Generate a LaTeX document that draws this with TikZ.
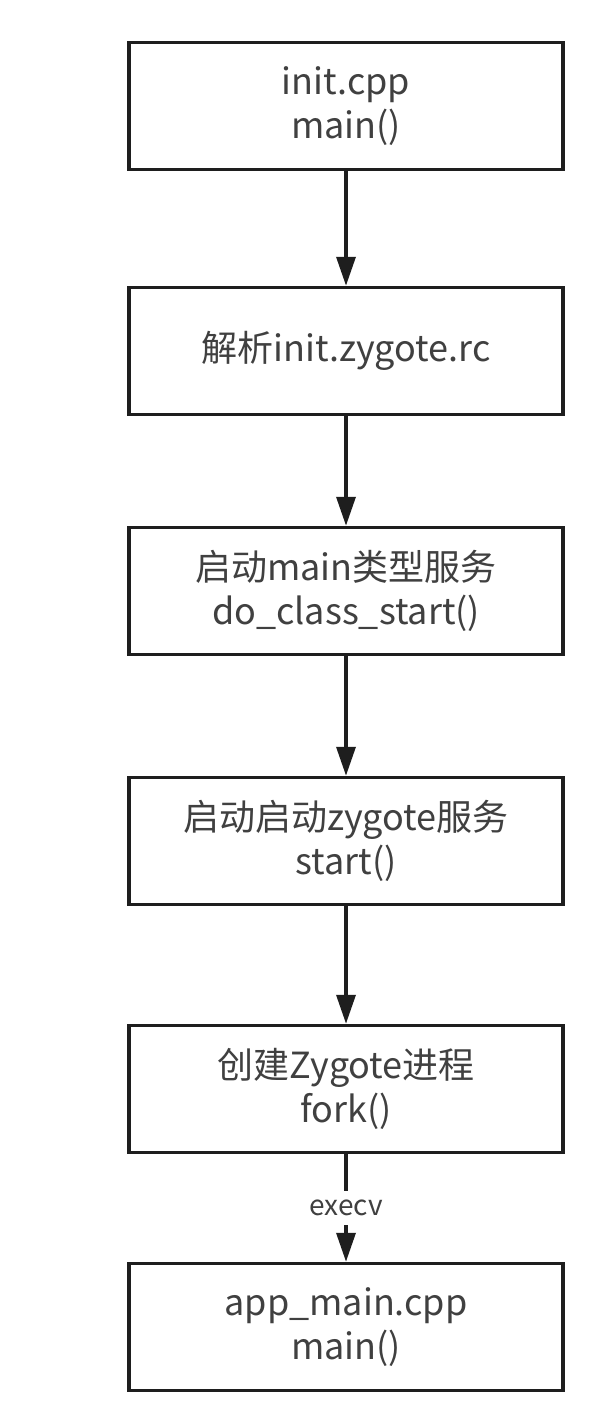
\documentclass[tikz,border=0pt]{standalone}
\usepackage{fontspec}
\setmainfont{Noto Sans CJK SC}
\usetikzlibrary{arrows.meta}
\definecolor{txt}{HTML}{404040}
\definecolor{ln}{HTML}{1E1E1E}
\tikzset{
  stepbox/.style={draw=ln, line width=3.5pt, rectangle, minimum width=434pt, minimum height=127pt,
    align=center, text=txt, font=\fontsize{36pt}{44pt}\selectfont, inner sep=0pt},
  flow/.style={draw=ln, line width=3.5pt, -{Triangle[width=19pt,length=29pt]}},
  lbl/.style={fill=white, text=txt, font=\fontsize{28pt}{30pt}\selectfont, inner xsep=3pt, inner ysep=9pt}
}
\begin{document}
\begin{tikzpicture}[x=1pt,y=-1pt]
\useasboundingbox[fill=white] (0,0) rectangle (606,1410);
\node[stepbox] (b1) at (346,106) {init.cpp\\main()};
\node[stepbox] (b2) at (346,351) {解析init.zygote.rc};
\node[stepbox] (b3) at (346,591) {启动main类型服务\\do\_class\_start()};
\node[stepbox] (b4) at (346,841) {启动启动zygote服务\\start()};
\node[stepbox] (b5) at (346,1089) {创建Zygote进程\\fork()};
\node[stepbox] (b6) at (346,1327) {app\_main.cpp\\main()};
\draw[flow] (b1) -- (b2);
\draw[flow] (b2) -- (b3);
\draw[flow] (b3) -- (b4);
\draw[flow] (b4) -- (b5);
\draw[flow] (b5) -- node[lbl, pos=0.5] (l1) {execv} (b6);
\end{tikzpicture}
\end{document}
